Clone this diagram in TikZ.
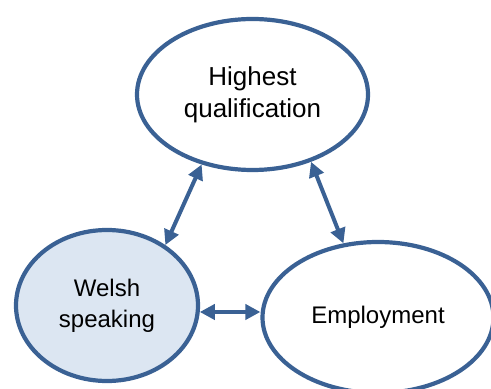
\documentclass[tikz,border=0pt]{standalone}
\usepackage{fontspec}
\setmainfont{Liberation Sans}
\usetikzlibrary{shapes.geometric,arrows.meta}
\definecolor{edgeblue}{HTML}{3A6194}
\definecolor{paleblue}{HTML}{DCE6F2}
\tikzset{
	bubble/.style={ellipse, draw=edgeblue, line width=2.1pt, inner sep=0pt,
		minimum width=115.5pt, minimum height=75.5pt, align=center,
		font=\fontsize{12}{15.5}\selectfont},
	link/.style={draw=edgeblue, line width=2pt,
		{Triangle[length=7.5pt,width=7.5pt]}-{Triangle[length=7.5pt,width=7.5pt]}}
}
\begin{document}
\begin{tikzpicture}[x=0.5pt,y=-0.5pt]

			\useasboundingbox (0,0) rectangle (491,389);
			\node[bubble, fill=white, font=\fontsize{13}{16}\selectfont] (hq) at (252.5,94.5) {Highest\\qualification};
			\node[bubble, fill=paleblue, minimum width=91pt] (ws) at (107,305.5) {Welsh\\speaking};
			\node[bubble, fill=white] (em) at (378,317.5) {Employment};

			\draw[link] (hq.234) -- (ws.46);
			\draw[link] (hq.311) -- (em.115);
			\draw[link] (ws.356) -- (ws.356 -| em.west);

	\end{tikzpicture}
\end{document}
